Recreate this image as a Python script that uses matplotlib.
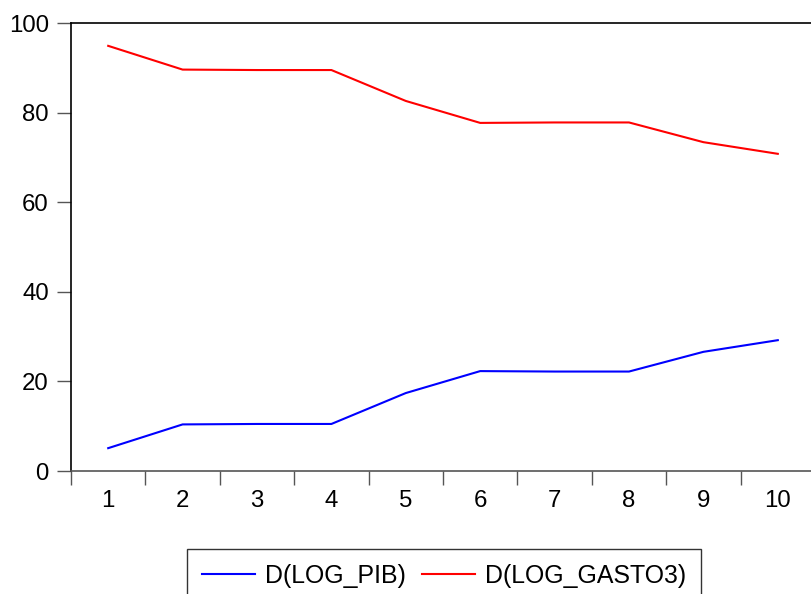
import matplotlib
matplotlib.use("Agg")
import matplotlib.pyplot as plt

periods = [1, 2, 3, 4, 5, 6, 7, 8, 9, 10]
pib = [5.1, 10.4, 10.5, 10.5, 17.4, 22.3, 22.2, 22.2, 26.6, 29.2]
gasto = [94.9, 89.6, 89.5, 89.5, 82.6, 77.7, 77.8, 77.8, 73.4, 70.8]
y_ticks = [0, 20, 40, 60, 80, 100]

plt.rcParams["font.family"] = ["Liberation Sans", "DejaVu Sans"]

fig = plt.figure(figsize=(8.11, 5.94), dpi=100)
ax = fig.add_axes([71 / 811, 1 - 471 / 594, 744 / 811, 448 / 594])

ax.plot(periods, pib, color="#0000ff", lw=1.5, label="D(LOG_PIB)")
ax.plot(periods, gasto, color="#ff0000", lw=1.5, label="D(LOG_GASTO3)")

ax.set_xlim(0.5, 10.5)
ax.set_ylim(0, 100)
ax.set_yticks(y_ticks)
ax.set_xticks(periods)
ax.set_xticks([p - 0.5 for p in periods], minor=True)
ax.tick_params(axis="x", which="major", length=0, pad=14, labelsize=17.3)
ax.tick_params(axis="x", which="minor", length=10, width=1, color="#555555")
ax.tick_params(axis="y", length=10, width=1, color="#555555", pad=6, labelsize=17.3)

for side in ["top", "left"]:
    ax.spines[side].set_color("black")
    ax.spines[side].set_linewidth(1.2)
ax.spines["bottom"].set_color("#555555")
ax.spines["bottom"].set_linewidth(1.2)
ax.spines["right"].set_visible(False)

leg = fig.legend(loc="center", bbox_to_anchor=(444 / 811, 1 - 576 / 594), ncol=2,
                 frameon=True, fancybox=False, fontsize=17.9, handlelength=2.13,
                 columnspacing=0.68, borderpad=0.6, handletextpad=0.4,
                 borderaxespad=0)
leg.get_frame().set_edgecolor("black")
leg.get_frame().set_linewidth(1.0)

fig.savefig("out.png", dpi=100)
